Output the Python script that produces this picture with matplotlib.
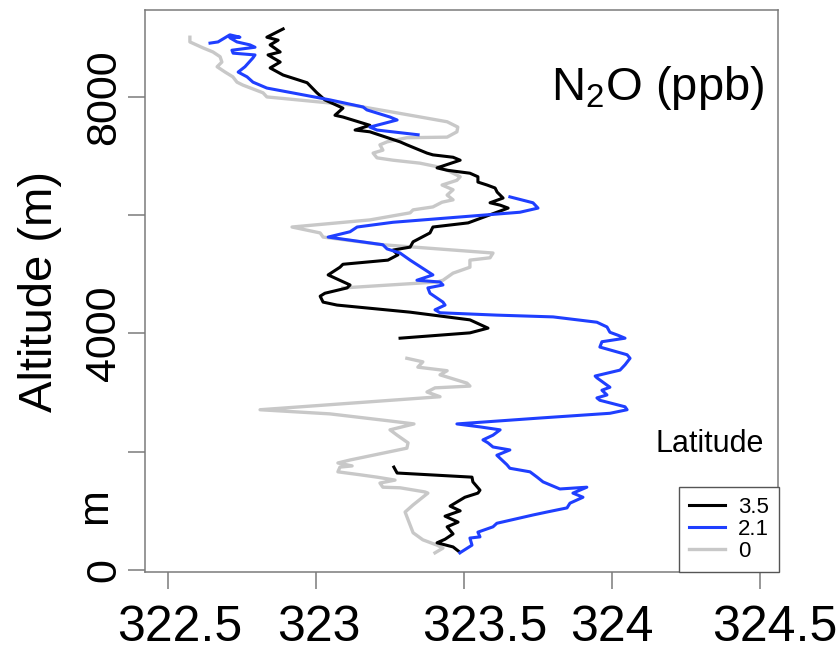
import numpy as np
import matplotlib
matplotlib.use("Agg")
import matplotlib.pyplot as plt
from matplotlib.transforms import ScaledTranslation

plt.rcParams['font.family'] = ['Liberation Sans', 'DejaVu Sans']
plt.rcParams['mathtext.fontset'] = 'custom'
plt.rcParams['mathtext.rm'] = 'Liberation Sans'
plt.rcParams['mathtext.it'] = 'Liberation Sans:italic'

nan = np.nan

# ---------------- data ----------------
latitudes = ['3.5', '2.1', '0']

n2o_lat35 = [323.486, 323.463, 323.409, 323.436, 323.463, 323.443, 323.480, 323.436, 323.487, 323.453,
             323.503, 323.547, 323.554, 323.530, 323.527, 323.274, 323.263, nan,
             323.284, 323.520, 323.581, 323.520, 323.318, 323.071, 323.024, 323.014, 323.030, 323.105,
             323.115, 323.041, 323.081, 323.091, 323.243, 323.277, 323.260, 323.318, 323.328, 323.385,
             323.395, 323.514, 323.649, 323.622, 323.588, 323.632, 323.612, 323.605, 323.578, 323.547,
             323.547, 323.520, 323.443, 323.409, 323.487, 323.463, 323.395, 323.375, 323.307, 323.284,
             323.182, 323.132, 323.182, 323.091, 323.064, 323.091, 323.030, 323.003, 322.970, 322.939,
             322.889, 322.845, 322.879, 322.855, 322.838, 322.879, 322.845, 322.872, 322.834, 322.889]
alt_lat35 = [300, 390, 460, 520, 610, 730, 810, 910, 1000, 1080,
             1230, 1300, 1350, 1490, 1570, 1640, 1740, nan,
             3920, 4010, 4090, 4230, 4360, 4480, 4530, 4630, 4680, 4770,
             4820, 4990, 5120, 5170, 5240, 5330, 5410, 5460, 5550, 5700,
             5800, 5870, 6120, 6170, 6210, 6290, 6390, 6460, 6510, 6560,
             6650, 6710, 6760, 6800, 6930, 6980, 7020, 7050, 7190, 7240,
             7410, 7440, 7520, 7660, 7690, 7810, 7950, 8070, 8240, 8290,
             8370, 8490, 8590, 8660, 8710, 8760, 8880, 8960, 9010, 9150]

n2o_lat21 = [323.486, 323.527, 323.520, 323.554, 323.547, 323.598, 323.611, 323.733, 323.780, 323.848,
             323.858, 323.902, 323.868, 323.915, 323.824, 323.767, 323.747, 323.723, 323.655, 323.645,
             323.611, 323.655, 323.598, 323.581, 323.564, 323.598, 323.622, 323.554, 323.476, 323.757,
             323.993, 324.051, 324.044, 323.959, 323.949, 323.983, 323.966, 323.993, 323.949, 323.943,
             324.027, 324.044, 324.061, 324.051, 323.959, 323.966, 324.044, 324.020, 323.993, 323.983,
             323.949, 323.801, 323.611, 323.419, 323.402, 323.436, 323.429, 323.385, 323.378, 323.429,
             323.419, 323.341, 323.395, 323.318, 323.284, 323.240, 323.226, 323.041, 323.115, 323.139,
             323.260, 323.487, 323.689, 323.750, 323.733, 323.655, nan,
             323.345, 323.206, 323.182, 323.274, 323.250, 323.172, 323.159, 323.047, 322.834, 322.787,
             322.767, 322.737, 322.760, 322.787, 322.794, 322.720, 322.716, 322.794, 322.777, 322.733,
             322.709, 322.743, 322.709, 322.669, 322.642]
alt_lat21 = [290, 420, 540, 560, 640, 730, 790, 930, 980, 1050,
             1130, 1230, 1300, 1400, 1370, 1490, 1570, 1660, 1720, 1780,
             1940, 2030, 2080, 2150, 2200, 2280, 2370, 2420, 2470, 2570,
             2650, 2710, 2760, 2870, 2910, 2960, 3040, 3090, 3250, 3280,
             3380, 3470, 3580, 3640, 3770, 3860, 3920, 3970, 4020, 4110,
             4190, 4280, 4310, 4350, 4400, 4480, 4530, 4680, 4770, 4820,
             4870, 4900, 4990, 5240, 5360, 5430, 5500, 5630, 5720, 5800,
             5880, 5970, 6050, 6120, 6210, 6310, nan,
             7360, 7440, 7490, 7610, 7660, 7780, 7830, 7950, 8150, 8250,
             8340, 8420, 8510, 8660, 8710, 8740, 8790, 8840, 8880, 8930,
             9000, 9010, 9050, 8930, 8910]

n2o_lat0 = [323.402, 323.429, 323.409, 323.361, 323.328, 323.311, 323.301, 323.328, 323.378, 323.368,
            323.284, 323.226, 323.216, 323.267, 323.206, 323.149, 323.074, 323.081, 323.122, 323.074,
            323.115, 323.307, 323.311, 323.274, 323.250, 323.331, 323.250, 323.047, 322.811, 323.419,
            323.375, 323.402, 323.520, 323.510, 323.419, 323.443, 323.344, 323.361, 323.307, nan,
            323.091, 323.409, 323.429, 323.463, 323.520, 323.520, 323.588, 323.598, 323.226, 323.024,
            323.014, 322.919, 323.182, 323.318, 323.328, 323.395, 323.426, 323.463, 323.443, 323.463,
            323.426, 323.476, 323.487, 323.443, 323.419, 323.351, 323.260, 323.206, 323.193, 323.226,
            323.216, 323.240, 323.307, 323.443, 323.476, 323.479, 323.443, 323.274, 323.125, 322.834,
            322.821, 322.753, 322.733, 322.719, 322.693, 322.666, 322.682, 322.676, 322.652, 322.618,
            322.574, 322.574]
alt_lat0 = [290, 370, 420, 510, 630, 850, 980, 1100, 1300, 1320,
            1390, 1400, 1470, 1520, 1570, 1610, 1660, 1740, 1760, 1810,
            1860, 2060, 2150, 2280, 2370, 2470, 2520, 2640, 2710, 2930,
            3010, 3080, 3110, 3160, 3300, 3370, 3430, 3520, 3580, nan,
            4770, 4870, 4900, 5020, 5120, 5240, 5280, 5360, 5500, 5630,
            5700, 5800, 5920, 6040, 6090, 6140, 6220, 6260, 6340, 6430,
            6510, 6590, 6650, 6760, 6810, 6880, 6930, 6970, 7050, 7100,
            7190, 7240, 7310, 7320, 7410, 7490, 7580, 7730, 7860, 8000,
            8070, 8200, 8250, 8340, 8420, 8510, 8590, 8680, 8760, 8830,
            8930, 9010]

xticks = [322.5, 323.0, 323.5, 324.0, 324.5]
xtick_labels = ['322.5', '323', '323.5', '324', '324.5']
yticks = [0, 2000, 4000, 6000, 8000]
ytick_labels = ['0', '', '4000', '', '8000']

# ---------------- styling ----------------
c_black = '#000000'
c_blue = '#1f3fff'
c_gray = '#c8c8c8'
frame_col = '#7a7a7a'

fig = plt.figure(figsize=(8.38, 6.57), dpi=100)
ax = fig.add_axes([0.17303, 0.12938, 0.75537, 0.85540])

l0, = ax.plot(n2o_lat0, alt_lat0, color=c_gray, lw=2.4, solid_joinstyle='round')
l35, = ax.plot(n2o_lat35, alt_lat35, color=c_black, lw=2.2, solid_joinstyle='round')
l21, = ax.plot(n2o_lat21, alt_lat21, color=c_blue, lw=2.2, solid_joinstyle='round')

ax.set_xlim(322.4223, 324.5608)
ax.set_ylim(-34, 9470)

for s in ax.spines.values():
    s.set_color(frame_col)
    s.set_linewidth(1.1)

ax.set_xticks(xticks)
ax.set_xticklabels(xtick_labels, fontsize=36)
ax.set_yticks(yticks)
ax.set_yticklabels(ytick_labels, fontsize=31, rotation=90, va='center')
ax.tick_params(axis='both', direction='out', length=12, width=1.1, color=frame_col)
ax.tick_params(axis='x', pad=12)
ax.tick_params(axis='y', pad=3)

# small horizontal shifts of x tick labels as in the reference
shift_px = [12, 3, 21, 0, 15]
for lab, s in zip(ax.get_xticklabels(), shift_px):
    lab.set_transform(lab.get_transform() + ScaledTranslation(s / 100.0, 0, fig.dpi_scale_trans))

ax.text(-0.047, 0.118, 'm', transform=ax.transAxes, rotation=90, fontsize=31,
        ha='right', va='center')

fig.text(40 / 838, 1 - 292 / 657, 'Altitude (m)', rotation=90, fontsize=34,
         ha='center', va='center')

ax.text(0.979, 0.840, r'N$_2$O (ppb)', transform=ax.transAxes, fontsize=34,
        ha='right', va='baseline')
ax.text(0.806, 0.2135, 'Latitude', transform=ax.transAxes, fontsize=22,
        ha='left', va='baseline')

leg = ax.legend([l35, l21, l0], latitudes, loc='lower right',
                bbox_to_anchor=(1.0 + 1 / 633, 0.0), borderaxespad=0.0,
                fontsize=16, frameon=True, fancybox=False, framealpha=1.0,
                edgecolor='#555555', handlelength=1.6, handletextpad=0.6,
                labelspacing=0.05, borderpad=0.45)
leg.get_frame().set_linewidth(1.0)

fig.savefig('out.png', dpi=100)
